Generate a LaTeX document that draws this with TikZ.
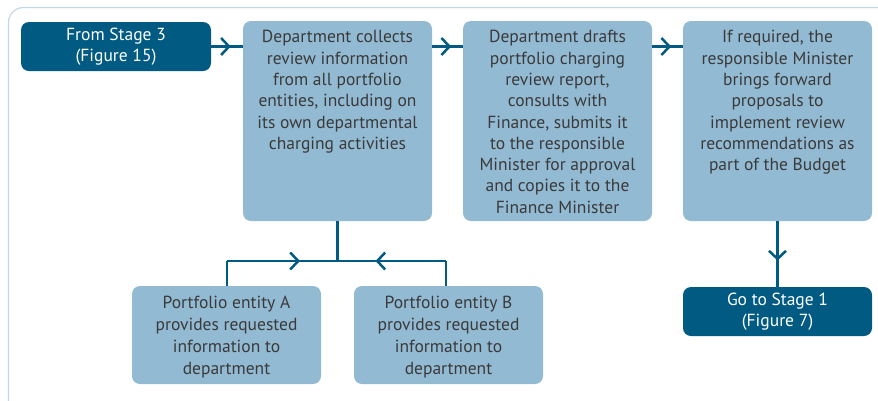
\documentclass[tikz,border=0pt]{standalone}
\usepackage{fontspec}
\setmainfont{PT Sans}
\usetikzlibrary{arrows.meta,decorations.markings,calc}
\definecolor{darkb}{HTML}{005A82}
\definecolor{lightb}{HTML}{93BAD3}
\definecolor{frameb}{HTML}{C3D7E6}
\definecolor{txtg}{HTML}{3A3A3A}
\tikzset{
  darkbox/.style={draw=none,fill=darkb,rounded corners=8pt,minimum width=190pt,minimum height=49pt,inner sep=0pt,text=white,align=center,font=\fontsize{17.5}{21}\selectfont},
  lightbox/.style={draw=none,fill=lightb,rounded corners=8pt,minimum width=189pt,inner sep=0pt},
  boxtext/.style={text=txtg,align=center,inner sep=0pt,font=\fontsize{17.5}{21.3}\selectfont},
  conn/.style={draw=darkb,line width=2.5pt},
  midarrow/.style={postaction={decorate,decoration={markings,mark=at position #1 with {\arrow[darkb,line width=2.5pt]{Straight Barb[length=8pt,width=17pt]}}}}}
}
\begin{document}
\begin{tikzpicture}[x=1pt,y=-1pt]
\useasboundingbox (0,0) rectangle (878,400);
\draw[frameb,line width=1.2pt,rounded corners=15pt] (8.5,7.5) rectangle (900,420);

\node[darkbox] (start) at (116,46.5) {From Stage 3\\(Figure 15)};
\node[lightbox,minimum height=200pt] (collects) at (337.5,121) {};
\node[boxtext,anchor=north] (tcollects) at ($(collects.north)+(0,9.5)$) {Department collects\\review information\\from all portfolio\\entities, including on\\its own departmental\\charging activities};
\node[lightbox,minimum height=200pt] (drafts) at (557.5,121) {};
\node[boxtext,anchor=north] (tdrafts) at ($(drafts.north)+(0,9.5)$) {Department drafts\\portfolio charging\\review report,\\consults with\\Finance, submits it\\to the responsible\\Minister for approval\\and copies it to the\\Finance Minister};
\node[lightbox,minimum height=200pt] (ifreq) at (777.5,121) {};
\node[boxtext,anchor=north] (tifreq) at ($(ifreq.north)+(0,9.5)$) {If required, the\\responsible Minister\\brings forward\\proposals to\\implement review\\recommendations as\\part of the Budget};
\node[darkbox,minimum width=189pt] (go) at (777.5,311.5) {Go to Stage 1\\(Figure 7)};
\node[lightbox,minimum height=98pt] (entA) at (226.5,335) {};
\node[boxtext,font=\fontsize{17.5}{22}\selectfont] (tentA) at ($(entA.center)+(0,2)$) {Portfolio entity A\\provides requested\\information to\\department};
\node[lightbox,minimum height=98pt] (entB) at (448.5,335) {};
\node[boxtext,font=\fontsize{17.5}{22}\selectfont] (tentB) at ($(entB.center)+(0,2)$) {Portfolio entity B\\provides requested\\information to\\department};

\draw[conn,midarrow=0.62] (start.east) -- (collects.west |- start.east);
\draw[conn,midarrow=0.62] (collects.east |- start.east) -- (drafts.west |- start.east);
\draw[conn,midarrow=0.62] (drafts.east |- start.east) -- (ifreq.west |- start.east);
\draw[conn,midarrow=0.6] (ifreq.south) -- (go.north);

\coordinate (j) at (337.5,261);
\coordinate (ca) at (227,261);
\coordinate (cb) at (446,261);
\draw[conn] (collects.south) -- (j);
\draw[conn] (ca |- entA.north) -- (ca);
\draw[conn] (cb |- entB.north) -- (cb);
\draw[conn,midarrow=0.66] (ca) -- (j);
\draw[conn,midarrow=0.65] (cb) -- (j);
\end{tikzpicture}
\end{document}
